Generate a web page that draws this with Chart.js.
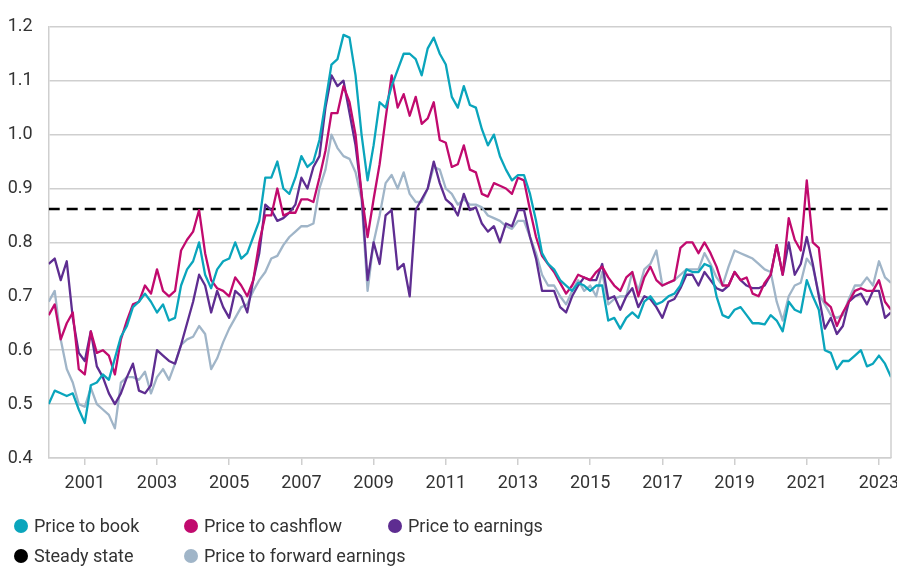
<!DOCTYPE html>
<html>
<head>
<meta charset="utf-8">
<script src="https://cdn.jsdelivr.net/npm/chart.js@4"></script>
<style>
  html,body{margin:0;padding:0;background:#fff;}
  #wrap{position:relative;width:897px;height:572px;font-family:Roboto,'Noto Sans',sans-serif;color:#333;}
  #c{position:absolute;left:0;top:0;}
  .leg{position:absolute;font-size:18px;line-height:20px;white-space:nowrap;}
  .leg i{position:absolute;left:-20px;top:3px;width:14px;height:14px;border-radius:50%;}
</style>
</head>
<body>
<div id="wrap">
  <canvas id="c" width="897" height="572"></canvas>
  <div id="legend"></div>
</div>
<script>
// bi-monthly readings, Jan 2000 .. May 2023
const startYear = 2000;
const stepsPerYear = 6;

const priceToBook = [
  0.50,0.525,0.52,0.515,0.52,0.49,
  0.465,0.535,0.54,0.555,0.545,0.585,
  0.625,0.645,0.68,0.69,0.705,0.69,
  0.67,0.685,0.655,0.66,0.72,0.75,
  0.765,0.80,0.74,0.715,0.75,0.765,
  0.77,0.80,0.77,0.78,0.81,0.84,
  0.92,0.92,0.95,0.90,0.89,0.92,
  0.96,0.94,0.95,0.99,1.06,1.13,
  1.14,1.185,1.18,1.11,1.00,0.915,
  0.98,1.06,1.05,1.09,1.12,1.15,
  1.15,1.14,1.11,1.16,1.18,1.15,
  1.13,1.07,1.05,1.09,1.055,1.05,
  1.01,0.98,1.00,0.96,0.935,0.915,
  0.925,0.925,0.89,0.84,0.78,0.76,
  0.75,0.73,0.72,0.71,0.725,0.72,
  0.71,0.72,0.72,0.655,0.66,0.64,
  0.66,0.67,0.66,0.69,0.70,0.685,
  0.69,0.70,0.705,0.72,0.75,0.745,
  0.745,0.76,0.755,0.70,0.665,0.66,
  0.675,0.68,0.665,0.65,0.65,0.648,
  0.665,0.655,0.635,0.69,0.675,0.67,
  0.73,0.70,0.675,0.60,0.595,0.565,
  0.58,0.58,0.59,0.60,0.57,0.575,
  0.59,0.575,0.55
];
const priceToCashflow = [
  0.665,0.685,0.62,0.65,0.67,0.565,
  0.555,0.635,0.595,0.60,0.59,0.555,
  0.62,0.655,0.685,0.69,0.72,0.705,
  0.75,0.71,0.70,0.71,0.785,0.805,
  0.82,0.86,0.78,0.73,0.715,0.71,
  0.70,0.735,0.72,0.70,0.73,0.80,
  0.85,0.85,0.90,0.85,0.855,0.855,
  0.88,0.88,0.875,0.92,0.97,1.04,
  1.04,1.09,1.06,1.00,0.89,0.81,
  0.88,0.945,1.03,1.11,1.05,1.075,
  1.035,1.07,1.02,1.03,1.06,0.99,
  0.985,0.94,0.945,0.98,0.935,0.93,
  0.89,0.885,0.91,0.905,0.90,0.89,
  0.92,0.915,0.86,0.81,0.775,0.76,
  0.745,0.725,0.705,0.72,0.74,0.735,
  0.73,0.745,0.755,0.735,0.72,0.71,
  0.735,0.745,0.70,0.735,0.755,0.73,
  0.72,0.725,0.73,0.79,0.80,0.80,
  0.78,0.80,0.78,0.755,0.72,0.72,
  0.745,0.73,0.735,0.705,0.70,0.725,
  0.74,0.795,0.74,0.845,0.805,0.785,
  0.915,0.80,0.79,0.69,0.68,0.645,
  0.67,0.69,0.71,0.715,0.71,0.71,
  0.73,0.69,0.675
];
const priceToEarnings = [
  0.76,0.77,0.73,0.765,0.66,0.595,
  0.58,0.635,0.57,0.55,0.52,0.50,
  0.52,0.55,0.575,0.525,0.52,0.535,
  0.60,0.59,0.58,0.575,0.61,0.65,
  0.69,0.74,0.72,0.67,0.71,0.68,
  0.66,0.71,0.70,0.67,0.73,0.78,
  0.87,0.86,0.84,0.845,0.855,0.87,
  0.92,0.90,0.94,0.96,1.05,1.11,
  1.09,1.10,1.04,0.98,0.89,0.73,
  0.80,0.76,0.85,0.86,0.75,0.76,
  0.70,0.86,0.88,0.90,0.95,0.91,
  0.88,0.87,0.85,0.89,0.86,0.865,
  0.835,0.82,0.83,0.80,0.835,0.83,
  0.86,0.86,0.81,0.77,0.71,0.71,
  0.71,0.68,0.67,0.70,0.72,0.735,
  0.73,0.73,0.76,0.695,0.70,0.675,
  0.70,0.715,0.68,0.70,0.695,0.68,
  0.66,0.69,0.695,0.715,0.74,0.74,
  0.72,0.745,0.73,0.715,0.71,0.72,
  0.745,0.73,0.72,0.715,0.715,0.72,
  0.74,0.795,0.74,0.80,0.74,0.76,
  0.81,0.76,0.70,0.64,0.66,0.63,
  0.645,0.69,0.70,0.705,0.685,0.71,
  0.71,0.66,0.67
];
const priceToForwardEarnings = [
  0.69,0.71,0.62,0.565,0.54,0.50,
  0.495,0.53,0.50,0.49,0.48,0.455,
  0.54,0.55,0.55,0.545,0.56,0.52,
  0.55,0.565,0.545,0.575,0.61,0.62,
  0.625,0.645,0.63,0.565,0.585,0.615,
  0.64,0.66,0.68,0.685,0.71,0.73,
  0.745,0.77,0.775,0.795,0.81,0.82,
  0.83,0.83,0.835,0.90,0.935,1.00,
  0.975,0.96,0.955,0.93,0.88,0.71,
  0.80,0.85,0.91,0.925,0.90,0.93,
  0.89,0.875,0.875,0.90,0.94,0.935,
  0.90,0.89,0.87,0.88,0.87,0.87,
  0.865,0.85,0.845,0.84,0.83,0.825,
  0.84,0.84,0.81,0.78,0.74,0.72,
  0.72,0.70,0.685,0.71,0.73,0.71,
  0.72,0.70,0.745,0.685,0.695,0.70,
  0.70,0.745,0.71,0.75,0.76,0.785,
  0.72,0.725,0.73,0.74,0.75,0.75,
  0.75,0.78,0.76,0.735,0.72,0.755,
  0.785,0.78,0.775,0.77,0.76,0.75,
  0.745,0.69,0.655,0.70,0.72,0.725,
  0.77,0.755,0.705,0.685,0.665,0.66,
  0.665,0.695,0.72,0.72,0.735,0.72,
  0.765,0.735,0.725
];
const steadyState = 0.862;
const xTickYears = [2001,2003,2005,2007,2009,2011,2013,2015,2017,2019,2021,2023];

const seriesNames = ['Price to book','Price to cashflow','Price to earnings','Steady state','Price to forward earnings'];
const seriesColors = ['#0aa5bc','#c10a6e','#5e2d91','#000000','#a0b5c8'];

const xOf = i => startYear + i / stepsPerYear;
const toPts = arr => arr.map((v,i)=>({x:xOf(i), y:v}));
const xMax = xOf(priceToBook.length - 1);

function lineDs(label, arr, color){
  return {label, data:toPts(arr), borderColor:color, borderWidth:2.3, pointRadius:0, tension:0, borderJoinStyle:'round'};
}

const rightBorder = {
  id:'rightBorder',
  afterDraw(chart){
    const a = chart.chartArea, ctx = chart.ctx;
    ctx.save(); ctx.strokeStyle='#cfcfcf'; ctx.lineWidth=1.5;
    ctx.beginPath(); ctx.moveTo(a.right, a.top); ctx.lineTo(a.right, a.bottom); ctx.stroke();
    ctx.restore();
  }
};

Chart.defaults.font.family = 'Roboto, "Noto Sans", sans-serif';
Chart.defaults.font.size = 18;
Chart.defaults.color = '#333';

new Chart(document.getElementById('c'), {
  type:'line',
  data:{datasets:[
    lineDs(seriesNames[0], priceToBook, seriesColors[0]),
    lineDs(seriesNames[1], priceToCashflow, seriesColors[1]),
    lineDs(seriesNames[2], priceToEarnings, seriesColors[2]),
    lineDs(seriesNames[4], priceToForwardEarnings, seriesColors[4]),
    {label:seriesNames[3], data:[{x:startYear,y:steadyState},{x:xMax,y:steadyState}], borderColor:'#000', borderWidth:2.4, borderDash:[11,7], pointRadius:0}
  ]},
  options:{
    responsive:false, animation:false,
    layout:{padding:{left:0, right:6, top:16, bottom:74}},
    plugins:{legend:{display:false}, tooltip:{enabled:false}},
    scales:{
      x:{type:'linear', min:startYear, max:xMax,
        afterBuildTicks(s){ s.ticks = xTickYears.map(v=>({value:v})); },
        afterFit(s){ s.height = 40; s.paddingLeft = 0; s.paddingRight = 0; },
        ticks:{padding:8, maxRotation:0, autoSkip:false, callback:v=>String(v)},
        grid:{drawOnChartArea:false, drawTicks:true, tickLength:7, color:'#cfcfcf', lineWidth:1.5},
        border:{color:'#cfcfcf', width:1.5}
      },
      y:{min:0.4, max:1.2,
        afterFit(s){ s.width = 48.7; },
        ticks:{stepSize:0.1, padding:16, callback:v=>v.toFixed(1)},
        grid:{drawTicks:false, color:'#cfcfcf', lineWidth:1.5},
        border:{color:'#cfcfcf', width:1.5}
      }
    }
  },
  plugins:[rightBorder]
});

// legend laid out in a 3-column grid like the original
const legendSlots = [
  [0, 34, 516],[1, 204, 516],[2, 408, 516],
  [3, 34, 546],[4, 204, 546]
];
document.getElementById('legend').innerHTML = legendSlots.map(([i,x,y]) =>
  `<div class="leg" style="left:${x}px;top:${y}px"><i style="background:${seriesColors[i]}"></i>${seriesNames[i]}</div>`
).join('');
</script>
</body>
</html>
